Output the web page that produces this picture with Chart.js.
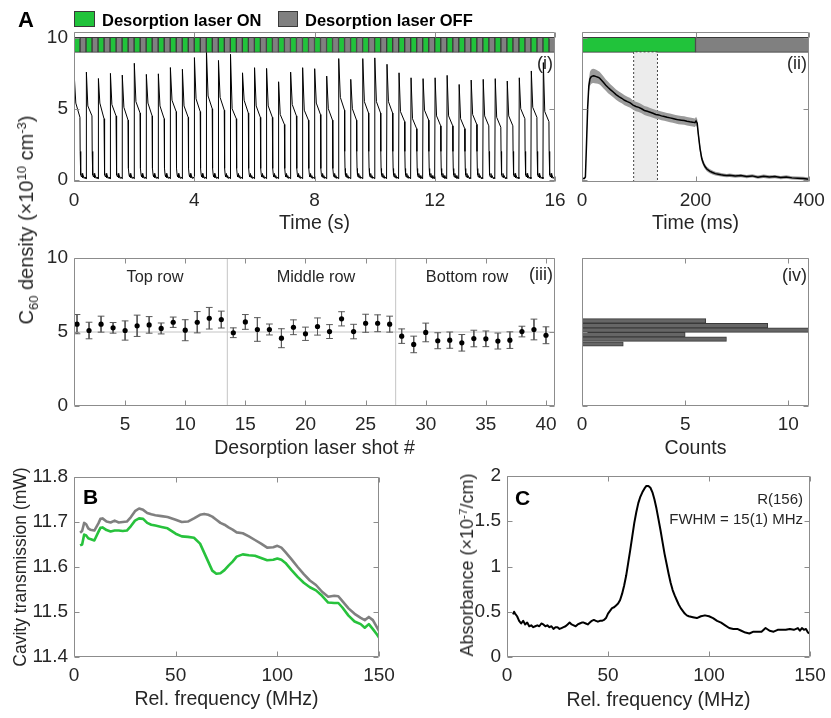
<!DOCTYPE html>
<html>
<head>
<meta charset="utf-8">
<script src="https://cdn.jsdelivr.net/npm/chart.js@4.4.1/dist/chart.umd.min.js"></script>
<style>
  body { margin: 0; background: #fff; }
  #fig { position: relative; width: 831px; height: 718px; overflow: hidden;
         font-family: "Liberation Sans", Arial, sans-serif; color: #262626; }
  #fig canvas { position: absolute; }
  .t { position: absolute; white-space: nowrap; line-height: 1; }
  .c { transform: translate(-50%, -50%); }
  .l { transform: translate(0, -50%); }
  .r { transform: translate(-100%, -50%); }
  .rot { transform: translate(-50%, -50%) rotate(-90deg); }
  .b { font-weight: bold; color: #000; }
  .sw { position: absolute; box-sizing: border-box; border: 1px solid #3a3a3a; }
  .sub { font-size: 0.65em; position: relative; top: 0.35em; }
  .sup { font-size: 0.65em; position: relative; top: -0.55em; }
</style>
</head>
<body>
<div id="fig">
  <canvas id="c_trace"></canvas>
  <canvas id="c_avg"></canvas>
  <canvas id="c_shots"></canvas>
  <canvas id="c_hist"></canvas>
  <canvas id="c_trans"></canvas>
  <canvas id="c_abs"></canvas>

  <div class="t l b" style="left:18px;top:19.5px;font-size:22px">A</div>
  <div class="sw" style="left:74px;top:11px;width:21px;height:16px;background:#21c33b"></div>
  <div class="t l b" style="left:102px;top:19.5px;font-size:16.5px">Desorption laser ON</div>
  <div class="sw" style="left:278px;top:11px;width:20px;height:16px;background:#808080"></div>
  <div class="t l b" style="left:305px;top:19.5px;font-size:16.5px">Desorption laser OFF</div>

  <div class="t r" style="left:553px;top:63px;font-size:18px">(i)</div>
  <div class="t r" style="left:807px;top:63px;font-size:18px">(ii)</div>
  <div class="t r" style="left:553px;top:274px;font-size:18px">(iii)</div>
  <div class="t r" style="left:807px;top:275px;font-size:18px">(iv)</div>
  <div class="t c" style="left:155px;top:276px;font-size:16.3px">Top row</div>
  <div class="t c" style="left:316px;top:276px;font-size:16.3px">Middle row</div>
  <div class="t c" style="left:467px;top:276px;font-size:16.3px">Bottom row</div>

  <div class="t rot" style="left:26px;top:220px;font-size:20px">C<span class="sub">60</span> density (×10<span class="sup">10</span> cm<span class="sup">-3</span>)</div>

  <div class="t l b" style="left:83px;top:496px;font-size:21px">B</div>
  <div class="t l b" style="left:515px;top:497px;font-size:21px">C</div>
  <div class="t r" style="left:803px;top:497.5px;font-size:15px">R(156)</div>
  <div class="t r" style="left:803px;top:517.5px;font-size:15px">FWHM = 15(1) MHz</div>
  <div class="t rot" style="left:467px;top:565px;font-size:18px">Absorbance (×10<span class="sup">-7</span>/cm)</div>
</div>

<script>
// ---- (i) 16 s trace, one pulse per desorption shot ----
const shotStart = [0, 0.4, 0.8, 1.2, 1.6, 2, 2.4, 2.8, 3.2, 3.6, 4, 4.4, 4.8, 5.2, 5.6, 6, 6.4, 6.8, 7.2, 7.6,
  8, 8.4, 8.8, 9.2, 9.6, 10, 10.4, 10.8, 11.2, 11.6, 12, 12.4, 12.8, 13.2, 13.6, 14, 14.4, 14.8, 15.2, 15.6];
const pulsePeak = [7.2, 7.58, 7.13, 7.49, 7.37, 8.2, 7.42, 7.46, 7.9, 7.78, 8.6, 9.08, 8.4, 8.83, 7.53, 7.89, 7.84, 6.9, 7.58, 7.89,
  7.82, 7.3, 8.53, 7.07, 8.53, 8.58, 8.13, 7.53, 7.18, 7.12, 7.18, 7.35, 6.71, 7.02, 7.07, 7.12, 6.95, 7.18, 7.66, 8.25];
const pulseMid = [5.4, 5.2, 5.4, 5.3, 5.1, 5.5, 5.4, 5.2, 5.6, 5.2, 5.7, 5.9, 5.8, 5.0, 5.6, 5.2, 5.2, 4.6, 5.3, 4.9,
  5.4, 5.0, 5.8, 5.0, 5.5, 5.5, 5.5, 4.8, 4.3, 4.9, 4.5, 4.5, 4.3, 4.6, 4.5, 4.4, 4.5, 5.0, 5.1, 4.8];
const pulseEnd = [4.4, 4.5, 4.3, 4.5, 4.2, 4.7, 4.5, 4.3, 4.8, 4.4, 4.8, 5.0, 4.9, 4.3, 4.7, 4.4, 4.4, 3.9, 4.5, 4.2,
  4.6, 4.2, 4.9, 4.2, 4.7, 4.7, 4.7, 4.1, 3.6, 4.2, 3.8, 3.8, 3.6, 3.9, 3.8, 3.7, 3.8, 4.3, 4.4, 4.1];
const offTimes = [0.205, 0.215, 0.23, 0.25, 0.27, 0.29, 0.31, 0.34, 0.37, 0.397];
const offLevels = [2.0, 0.8, 0.35, 0.2, 0.45, 0.15, 0.3, 0.1, 0.2, 0.08];
const riseTime = 0.012;
const midTime = 0.06;
const endTime = 0.198;
const laserOnTime = 0.2;
const laserPeriod = 0.4;
const stripLevel = 9.5;

// ---- (ii) averaged shot, 0-400 ms ----
const avgTime = [0, 4, 6, 8, 10, 12, 14, 16, 18, 20, 22, 25, 28, 31, 34, 38, 42, 46, 50, 55,
  60, 65, 70, 75, 80, 85, 90, 95, 100, 105, 110, 115, 120, 125, 130, 135, 140, 145, 150, 155,
  160, 165, 170, 175, 180, 185, 190, 195, 199, 201, 203, 205, 208, 211, 214, 217, 220, 225, 230, 235,
  240, 245, 250, 255, 260, 270, 280, 290, 300, 310, 320, 330, 340, 350, 360, 370, 380, 390, 400];
const avgDensity = [0.1, 0.1, 0.2, 2.6, 5.1, 6.6, 7.1, 7.25, 7.3, 7.32, 7.3, 7.26, 7.22, 7.15, 7.03, 6.85, 6.66, 6.5, 6.35, 6.18,
  6.0, 5.86, 5.74, 5.6, 5.5, 5.42, 5.26, 5.16, 5.1, 5.0, 4.88, 4.82, 4.75, 4.68, 4.6, 4.57, 4.5, 4.46, 4.4, 4.36,
  4.32, 4.27, 4.22, 4.2, 4.17, 4.12, 4.08, 4.06, 4.02, 4.14, 3.98, 3.2, 2.2, 1.5, 1.15, 0.92, 0.76, 0.62, 0.52, 0.44,
  0.4, 0.36, 0.33, 0.3, 0.32, 0.27, 0.3, 0.23, 0.28, 0.19, 0.25, 0.2, 0.23, 0.16, 0.2, 0.14, 0.12, 0.1, 0.04];
const avgSpread = [0.05, 0.05, 0.1, 0.3, 0.4, 0.45, 0.5, 0.5, 0.5, 0.5, 0.5, 0.48, 0.46, 0.45, 0.43, 0.42, 0.4, 0.4, 0.38, 0.37,
  0.36, 0.36, 0.35, 0.35, 0.34, 0.34, 0.33, 0.33, 0.33, 0.32, 0.32, 0.32, 0.31, 0.31, 0.31, 0.3, 0.3, 0.3, 0.3, 0.3,
  0.3, 0.3, 0.3, 0.3, 0.3, 0.3, 0.3, 0.3, 0.3, 0.3, 0.3, 0.3, 0.3, 0.25, 0.2, 0.18, 0.16, 0.15, 0.14, 0.13,
  0.13, 0.12, 0.12, 0.12, 0.12, 0.12, 0.12, 0.12, 0.12, 0.12, 0.12, 0.12, 0.12, 0.12, 0.12, 0.12, 0.12, 0.12, 0.12];
const gateStart = 91;
const gateEnd = 133;
const gateTop = 9;
const avgPhases = [[0, 200], [200, 400]];

// ---- (iii) density per shot, (iv) histogram ----
const shotNumber = [1, 2, 3, 4, 5, 6, 7, 8, 9, 10, 11, 12, 13, 14, 15, 16, 17, 18, 19, 20,
  21, 22, 23, 24, 25, 26, 27, 28, 29, 30, 31, 32, 33, 34, 35, 36, 37, 38, 39, 40];
const shotDensity = [5.53, 5.1, 5.53, 5.28, 5.1, 5.42, 5.48, 5.24, 5.66, 5.12, 5.66, 5.93, 5.84, 4.95, 5.68, 5.17, 5.17, 4.58, 5.32, 4.88,
  5.37, 5.03, 5.89, 5.03, 5.59, 5.59, 5.53, 4.72, 4.16, 4.97, 4.41, 4.45, 4.27, 4.56, 4.54, 4.39, 4.45, 5.03, 5.17, 4.78];
const shotError = [0.65, 0.56, 0.54, 0.36, 0.65, 0.72, 0.56, 0.37, 0.35, 0.71, 0.72, 0.73, 0.57, 0.33, 0.5, 0.8, 0.37, 0.64, 0.5, 0.45,
  0.58, 0.47, 0.48, 0.49, 0.61, 0.57, 0.54, 0.49, 0.56, 0.63, 0.54, 0.55, 0.56, 0.56, 0.53, 0.54, 0.56, 0.36, 0.7, 0.57];
const rowBounds = [13.5, 27.5];
const refLevel = 5;
const histCenters = [4.19, 4.515, 4.82, 5.125, 5.435, 5.75];
const histCounts = [2, 7, 5, 11, 9, 6];

// ---- B cavity transmission ----
const bFreq = [3, 4, 5, 6, 7, 8, 10, 12, 13, 14, 16, 18, 20, 22, 24, 26, 28, 30, 32, 34,
  36, 38, 40, 43, 46, 50, 53, 56, 59, 62, 64, 66, 68, 70, 72, 74, 76, 78, 80, 83,
  86, 89, 92, 95, 98, 100, 102, 104, 107, 110, 113, 116, 119, 122, 125, 128, 130, 132, 135, 138,
  141, 143, 145, 147, 149, 150];
const bLaserOff = [11.676, 11.68, 11.698, 11.695, 11.686, 11.683, 11.681, 11.697, 11.707, 11.708,
  11.701, 11.699, 11.703, 11.699, 11.7, 11.701, 11.711, 11.724, 11.73, 11.727,
  11.72, 11.717, 11.715, 11.713, 11.711, 11.705, 11.7, 11.701, 11.708, 11.716,
  11.718, 11.716, 11.712, 11.705, 11.698, 11.694, 11.688, 11.683, 11.677, 11.675,
  11.668, 11.66, 11.652, 11.643, 11.644, 11.647, 11.643, 11.633, 11.617, 11.6,
  11.584, 11.57, 11.56, 11.545, 11.534, 11.536, 11.535, 11.524, 11.508, 11.496,
  11.487, 11.482, 11.489, 11.482, 11.466, 11.458];
const bLaserOn = [11.648, 11.65, 11.672, 11.67, 11.664, 11.662, 11.659, 11.678, 11.687, 11.688,
  11.682, 11.679, 11.681, 11.681, 11.68, 11.681, 11.691, 11.703, 11.708, 11.707,
  11.698, 11.694, 11.692, 11.689, 11.686, 11.674, 11.668, 11.667, 11.665, 11.652,
  11.632, 11.612, 11.592, 11.585, 11.586, 11.593, 11.603, 11.612, 11.623, 11.628,
  11.626, 11.625, 11.62, 11.615, 11.616, 11.619, 11.616, 11.609, 11.593, 11.578,
  11.565, 11.555, 11.548, 11.536, 11.521, 11.52, 11.52, 11.51, 11.492, 11.479,
  11.473, 11.465, 11.473, 11.462, 11.45, 11.443];

// ---- C absorbance line ----
const cFreq = [3, 3.5, 4, 5, 6, 7, 8, 9, 10,
  11, 12, 13, 14, 15, 16, 17, 18, 19, 20, 21, 22, 23, 24, 25, 26, 27, 28, 29, 30,
  31, 32, 33, 34, 35, 36, 37, 38, 39, 40, 41, 42, 43, 44, 45, 46, 47, 48, 49,
  50, 51, 52, 53, 54, 55, 56, 57, 58, 59, 60, 61, 62, 63, 64, 65, 66, 67, 68, 69,
  70, 71, 72, 73, 74, 75, 76, 77, 78, 79, 80, 81, 82, 83, 84, 85, 86, 87, 88, 89, 90,
  92, 94, 96, 98, 100, 102, 104, 106, 108, 110, 112, 114, 116, 118, 120, 122, 124, 126, 128, 130,
  132, 134, 136, 138, 140, 142, 144, 145, 146, 147, 148, 149, 150];
const cAbsorbance = [0.47, 0.5, 0.48, 0.45, 0.4, 0.37, 0.4, 0.36, 0.38,
  0.34, 0.35, 0.33, 0.34, 0.35, 0.34, 0.37, 0.36, 0.34, 0.35, 0.33, 0.34, 0.31, 0.33, 0.33, 0.31, 0.32, 0.33, 0.34, 0.36,
  0.38, 0.36, 0.35, 0.34, 0.36, 0.37, 0.38, 0.38, 0.37, 0.36, 0.38, 0.4, 0.41, 0.4, 0.39, 0.4, 0.4, 0.41, 0.43,
  0.48, 0.51, 0.54, 0.55, 0.57, 0.59, 0.63, 0.7, 0.79, 0.9, 1.04, 1.18, 1.33, 1.48, 1.6, 1.7, 1.77, 1.82, 1.86, 1.89,
  1.89, 1.87, 1.82, 1.74, 1.64, 1.52, 1.4, 1.27, 1.14, 1.03, 0.92, 0.82, 0.74, 0.68, 0.63, 0.58, 0.54, 0.51, 0.48, 0.46, 0.45,
  0.44, 0.43, 0.45, 0.46, 0.45, 0.43, 0.4, 0.38, 0.35, 0.32, 0.31, 0.31, 0.29, 0.27, 0.26, 0.28, 0.28, 0.28, 0.32, 0.29,
  0.28, 0.3, 0.3, 0.3, 0.31, 0.3, 0.32, 0.29, 0.32, 0.3, 0.31, 0.27, 0.26];

const TEXT = "#262626";
const BOX = "#8c8c8c";
const GREEN = "#21c33b";
const GREY = "#808080";
const TICK_LEN = 5;

Chart.defaults.font.family = "'Liberation Sans', Arial, sans-serif";
Chart.defaults.color = TEXT;

// matlab style box with inward ticks on all four sides
const matlabBox = {
  id: "matlabBox",
  afterDatasetsDraw(chart) {
    const { ctx, chartArea: a, scales } = chart;
    const L = Math.round(a.left) + 0.5, R = Math.round(a.right) - 0.5;
    const T = Math.round(a.top) + 0.5, B = Math.round(a.bottom) - 0.5;
    ctx.save();
    ctx.strokeStyle = BOX;
    ctx.lineWidth = 1;
    ctx.beginPath();
    ctx.rect(L, T, R - L, B - T);
    scales.x.ticks.forEach((t) => {
      const px = Math.round(scales.x.getPixelForValue(t.value)) + 0.5;
      ctx.moveTo(px, B); ctx.lineTo(px, B - TICK_LEN);
      ctx.moveTo(px, T); ctx.lineTo(px, T + TICK_LEN);
    });
    scales.y.ticks.forEach((t) => {
      const py = Math.round(scales.y.getPixelForValue(t.value)) + 0.5;
      ctx.moveTo(L, py); ctx.lineTo(L + TICK_LEN, py);
      ctx.moveTo(R, py); ctx.lineTo(R - TICK_LEN, py);
    });
    ctx.stroke();
    ctx.restore();
  },
};

function linAxis(min, max, tickVals, opts) {
  opts = opts || {};
  return {
    type: "linear",
    min: min,
    max: max,
    offset: false,
    grid: { display: false, drawTicks: false },
    border: { display: false },
    afterBuildTicks: (s) => { s.ticks = tickVals.map((v) => ({ value: v })); },
    ticks: {
      display: opts.labels !== false,
      color: TEXT,
      font: { size: 19 },
      padding: opts.padding || 7,
      autoSkip: false,
      maxRotation: 0,
      callback: (v) => String(v),
    },
    title: opts.title
      ? { display: true, text: opts.title, color: TEXT, font: { size: opts.titleSize || 19.5 }, padding: 0 }
      : { display: false },
  };
}

// keep the plot area where we put it: no extra room for overhanging tick labels
function fixSize(s, size) {
  if (s.isHorizontal()) s.height = size; else s.width = size;
  s.paddingTop = 0;
  s.paddingBottom = 0;
  s.paddingLeft = 0;
  s.paddingRight = 0;
}

// box = plot area on the page, pad = room left/right/top/bottom for ticks and titles
function makeChart(id, box, pad, datasets, xAxis, yAxis, extra) {
  const cv = document.getElementById(id);
  cv.width = pad.l + box.w + pad.r;
  cv.height = pad.t + box.h + pad.b;
  cv.style.left = box.x - pad.l + "px";
  cv.style.top = box.y - pad.t + "px";
  xAxis.afterFit = (s) => fixSize(s, pad.b);
  yAxis.afterFit = (s) => fixSize(s, pad.l);
  const options = Object.assign({
    responsive: false,
    animation: false,
    devicePixelRatio: 1,
    layout: { padding: { top: pad.t, right: pad.r, left: 0, bottom: 0 }, autoPadding: false },
    plugins: { legend: { display: false }, tooltip: { enabled: false } },
    scales: { x: xAxis, y: yAxis },
    elements: { point: { radius: 0 }, line: { tension: 0 } },
  }, extra || {});
  return new Chart(cv, {
    type: (extra && extra.chartType) || "line",
    data: { datasets: datasets },
    options: options,
    plugins: [matlabBox],
  });
}

function stripBars(data, color, order) {
  return {
    type: "bar",
    indexAxis: "y",
    data: data,
    backgroundColor: color,
    borderColor: "#3a3a3a",
    borderWidth: 1,
    borderSkipped: false,
    barThickness: 15,
    grouped: false,
    order: order,
  };
}

function buildPulseTrace() {
  const pts = [];
  shotStart.forEach((t0, k) => {
    pts.push({ x: t0, y: offLevels[offLevels.length - 1] });
    pts.push({ x: t0 + riseTime, y: pulsePeak[k] });
    pts.push({ x: t0 + midTime, y: pulseMid[k] });
    pts.push({ x: t0 + endTime, y: pulseEnd[k] });
    offTimes.forEach((dt, j) => pts.push({ x: t0 + dt, y: offLevels[j] }));
  });
  return pts;
}

function buildErrorBars() {
  const capHalf = 0.28;
  const pts = [];
  shotNumber.forEach((n, i) => {
    const lo = shotDensity[i] - shotError[i];
    const hi = shotDensity[i] + shotError[i];
    pts.push({ x: n - capHalf, y: hi }, { x: n + capHalf, y: hi }, { x: n, y: null });
    pts.push({ x: n, y: hi }, { x: n, y: lo }, { x: n, y: null });
    pts.push({ x: n - capHalf, y: lo }, { x: n + capHalf, y: lo }, { x: n, y: null });
  });
  return pts;
}

function initializeTracePanel() {
  const onData = shotStart.map((t) => ({ x: [t, t + laserOnTime], y: stripLevel }));
  const offData = shotStart.map((t) => ({ x: [t + laserOnTime, t + laserPeriod], y: stripLevel }));
  makeChart("c_trace", { x: 74, y: 32, w: 481, h: 150 }, { l: 55, r: 16, t: 14, b: 53 }, [
    { data: buildPulseTrace(), borderColor: "#000", borderWidth: 1, order: 1 },
    stripBars(onData, GREEN, 0),
    stripBars(offData, GREY, 0),
  ],
  linAxis(0, 16, [0, 4, 8, 12, 16], { title: "Time (s)" }),
  linAxis(-0.15, 10.4, [0, 5, 10], { padding: 6 }));
}

function initializeAvgPanel() {
  const line = avgTime.map((t, i) => ({ x: t, y: avgDensity[i] }));
  const upper = avgTime.map((t, i) => ({ x: t, y: avgDensity[i] + avgSpread[i] }));
  const lower = avgTime.map((t, i) => ({ x: t, y: avgDensity[i] - avgSpread[i] }));
  const gate = [
    { x: gateStart, y: -0.15 }, { x: gateStart, y: gateTop },
    { x: gateEnd, y: gateTop }, { x: gateEnd, y: -0.15 },
  ];
  makeChart("c_avg", { x: 582, y: 32, w: 227, h: 150 }, { l: 10, r: 21, t: 14, b: 53 }, [
    { data: line, borderColor: "#000", borderWidth: 1.5, order: 0 },
    { data: upper, borderWidth: 0, backgroundColor: "#9b9b9b", fill: "+1", order: 1 },
    { data: lower, borderWidth: 0, order: 2 },
    { data: gate, borderColor: "#444", borderWidth: 1, borderDash: [2, 2],
      backgroundColor: "#ececec", fill: "start", order: 3 },
    stripBars([{ x: avgPhases[0], y: stripLevel }], GREEN, 4),
    stripBars([{ x: avgPhases[1], y: stripLevel }], GREY, 4),
  ],
  linAxis(0, 400, [0, 200, 400], { title: "Time (ms)" }),
  linAxis(-0.15, 10.4, [0, 5, 10], { labels: false }));
}

function initializeShotPanel() {
  const points = shotNumber.map((n, i) => ({ x: n, y: shotDensity[i] }));
  const dividers = [
    { x: rowBounds[0], y: 0 }, { x: rowBounds[0], y: 10 }, { x: rowBounds[0], y: null },
    { x: rowBounds[1], y: 0 }, { x: rowBounds[1], y: 10 },
  ];
  const ref = [{ x: 0.75, y: refLevel }, { x: 40.75, y: refLevel }];
  makeChart("c_shots", { x: 74, y: 258, w: 481, h: 148 }, { l: 55, r: 16, t: 14, b: 54 }, [
    { data: points, showLine: false, pointRadius: 2.6, pointBackgroundColor: "#000",
      pointBorderWidth: 0, order: 0 },
    { data: buildErrorBars(), borderColor: "#5a5a5a", borderWidth: 1, order: 1 },
    { data: ref, borderColor: "#c4c4c4", borderWidth: 1, order: 2 },
    { data: dividers, borderColor: "#c4c4c4", borderWidth: 1, order: 2 },
  ],
  linAxis(0.75, 40.75, [5, 10, 15, 20, 25, 30, 35, 40], { title: "Desorption laser shot #" }),
  linAxis(0, 10, [0, 5, 10], { padding: 6 }));
}

function initializeHistPanel() {
  const bars = histCenters.map((c, i) => ({ x: histCounts[i], y: c }));
  makeChart("c_hist", { x: 582, y: 258, w: 227, h: 148 }, { l: 10, r: 16, t: 14, b: 54 }, [
    { data: bars, backgroundColor: "#666666", borderColor: "#3a3a3a", borderWidth: 1,
      borderSkipped: false, barPercentage: 1, categoryPercentage: 1 },
  ],
  linAxis(0, 11, [0, 5, 10], { title: "Counts" }),
  linAxis(0, 10, [0, 5, 10], { labels: false }),
  { chartType: "bar", indexAxis: "y" });
}

function initializeTransPanel() {
  const off = bFreq.map((f, i) => ({ x: f, y: bLaserOff[i] }));
  const on = bFreq.map((f, i) => ({ x: f, y: bLaserOn[i] }));
  makeChart("c_trans", { x: 74, y: 477, w: 305, h: 180 }, { l: 63, r: 20, t: 16, b: 54 }, [
    { data: off, borderColor: GREY, borderWidth: 2.6, borderJoinStyle: "round" },
    { data: on, borderColor: "#27c23c", borderWidth: 2.6, borderJoinStyle: "round" },
  ],
  linAxis(0, 150, [0, 50, 100, 150], { title: "Rel. frequency (MHz)" }),
  linAxis(11.4, 11.8, [11.4, 11.5, 11.6, 11.7, 11.8],
    { padding: 6, title: "Cavity transmission (mW)", titleSize: 17.5 }));
}

function initializeAbsPanel() {
  const line = cFreq.map((f, i) => ({ x: f, y: cAbsorbance[i] }));
  makeChart("c_abs", { x: 507, y: 476, w: 303, h: 181 }, { l: 51, r: 19, t: 14, b: 55 }, [
    { data: line, borderColor: "#000", borderWidth: 2, borderJoinStyle: "round" },
  ],
  linAxis(0, 150, [0, 50, 100, 150], { title: "Rel. frequency (MHz)" }),
  linAxis(0, 2, [0, 0.5, 1, 1.5, 2], { padding: 6 }));
}

initializeTracePanel();
initializeAvgPanel();
initializeShotPanel();
initializeHistPanel();
initializeTransPanel();
initializeAbsPanel();
</script>
</body>
</html>
